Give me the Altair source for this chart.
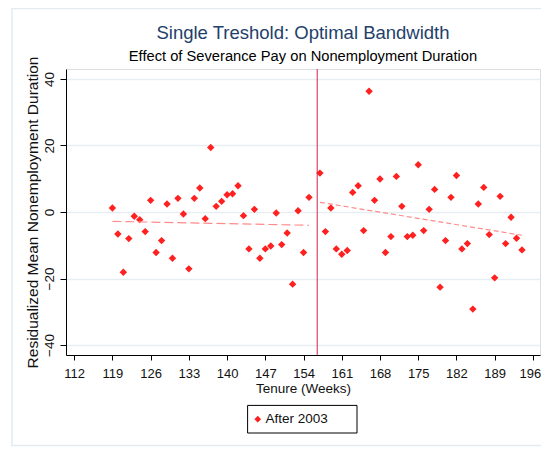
import altair as alt
import pandas as pd

# ---- data ----
left_weeks = [119, 120, 121, 122, 123, 124, 125, 126, 127, 128, 129, 130, 131, 132, 133,
              134, 135, 136, 137, 138, 139, 140, 141, 142, 143, 144, 145, 146, 147, 148,
              149, 150, 151, 152, 153, 154, 155]
left_vals = [1.2, -6.6, -18.1, -8.0, -1.3, -2.3, -5.9, 3.5, -12.2, -8.6, 2.4, -13.9, 4.1,
             -0.6, -17.1, 4.1, 7.2, -2.0, 19.4, 1.7, 3.2, 5.2, 5.5, 7.9, -1.1, -11.1, 0.8,
             -13.9, -11.1, -10.2, -0.3, -9.8, -6.3, -21.7, 0.4, -12.2, 4.4]
right_weeks = [157, 158, 159, 160, 161, 162, 163, 164, 165, 166, 167, 168, 169, 170, 171,
               172, 173, 174, 175, 176, 177, 178, 179, 180, 181, 182, 183, 184, 185, 186,
               187, 188, 189, 190, 191, 192, 193, 194]
right_vals = [11.7, -5.9, 1.2, -11.1, -12.7, -11.6, 5.9, 7.9, -5.6, 36.3, 3.5, 9.9, -12.2,
              -7.4, 10.7, 1.7, -7.4, -7.0, 14.2, -5.6, 0.8, 6.8, -22.6, -8.6, 4.4, 11.0,
              -11.1, -9.5, -29.2, 2.4, 7.4, -6.8, -19.8, 4.7, -9.5, -1.6, -7.9, -11.4]
series_name = "After 2003"
cutoff = 156.5
left_fit_x = [119, 155]
left_fit_y = [-2.8, -4.0]
right_fit_x = [157, 194]
right_fit_y = [2.9, -7.0]
x_ticks = [112, 119, 126, 133, 140, 147, 154, 161, 168, 175, 182, 189, 196]
y_ticks = [-40, -20, 0, 20, 40]
title_text = "Single Treshold: Optimal Bandwidth"
subtitle_text = "Effect of Severance Pay on Nonemployment Duration"

FONT = "Liberation Sans"
RED = "#ff2020"
FIT = "#ff8a8a"
W, H = 474, 286

pts = pd.DataFrame({
    "tenure": left_weeks + right_weeks,
    "value": left_vals + right_vals,
    "series": [series_name] * (len(left_weeks) + len(right_weeks)),
})
left_fit = pd.DataFrame({"tenure": left_fit_x, "fit": left_fit_y})
right_fit = pd.DataFrame({"tenure": right_fit_x, "fit": right_fit_y})
cut = pd.DataFrame({"cutoff": [cutoff]})
one = alt.Data(values=[{"k": 1}])

xscale = alt.Scale(domain=[110.5, 197.3], nice=False, zero=False)
yscale = alt.Scale(domain=[-43, 43], nice=False, zero=False)

xaxis = alt.Axis(values=x_ticks, title="Tenure (Weeks)", grid=False,
                 labelOverlap=False, labelFlush=False,
                 labelOffset=alt.condition("datum.value == 196", alt.value(-3), alt.value(0)),
                 labelFontSize=13, labelFont=FONT, labelColor="#111",
                 labelPadding=7, tickSize=5, tickColor="black",
                 domainColor="black", titleFont=FONT, titleFontSize=13.5,
                 titleFontWeight="normal", titleColor="#111",
                 titleBaseline="alphabetic", titleY=37)
yaxis = alt.Axis(values=y_ticks, title="Residualized Mean Nonemployment Duration",
                 grid=True, gridColor="#e6eef1", gridWidth=1.5,
                 labelOverlap=False, labelFlush=False,
                 labelAngle=270, labelAlign="center", labelBaseline="bottom",
                 labelFontSize=13.5, labelFont=FONT, labelColor="#111",
                 labelPadding=4, tickSize=6, tickColor="black", domainColor="black",
                 titleFont=FONT, titleFontSize=15.5, titleFontWeight="normal",
                 titleColor="#111", titleAngle=270, titleAlign="center",
                 titleBaseline="alphabetic", titleX=-29, titleY=143)

X = lambda f: alt.X(f, scale=xscale, axis=xaxis)
Y = lambda f: alt.Y(f, scale=yscale, axis=yaxis)

frame = alt.Chart(one).mark_rect(
    fillOpacity=0, stroke="#e2ecef", strokeWidth=1.5
).encode(
    x=alt.value(-54), x2=alt.value(520), y=alt.value(-60.5), y2=alt.value(376.5)
)
legend_box = alt.Chart(one).mark_rect(
    fill="white", stroke="black", strokeWidth=1
).encode(
    x=alt.value(181.6), x2=alt.value(291), y=alt.value(336.4), y2=alt.value(364)
)

title_mark = alt.Chart(one).mark_text(
    font=FONT, fontSize=18.5, color="#233f6b", align="center", baseline="alphabetic"
).encode(x=alt.value(W / 2), y=alt.value(-30), text=alt.value(title_text))
subtitle_mark = alt.Chart(one).mark_text(
    font=FONT, fontSize=14.7, color="#000", align="center", baseline="alphabetic"
).encode(x=alt.value(W / 2), y=alt.value(-8), text=alt.value(subtitle_text))

points = alt.Chart(pts).mark_point(shape="diamond", filled=True, size=55, opacity=1).encode(
    x=X("tenure:Q"),
    y=Y("value:Q"),
    color=alt.Color("series:N", scale=alt.Scale(domain=[series_name], range=[RED]),
                    legend=alt.Legend(title=None, orient="none", legendX=178, legendY=336.4,
                                      padding=7, symbolType="diamond",
                                      symbolSize=45, labelFont=FONT, labelFontSize=13.5,
                                      labelColor="#111", labelOffset=1)),
)

lfit = alt.Chart(left_fit).mark_line(color=FIT, strokeWidth=1.2, strokeDash=[9, 4]).encode(
    x=X("tenure:Q"), y=Y("fit:Q"))
rfit = alt.Chart(right_fit).mark_line(color=FIT, strokeWidth=1.2, strokeDash=[5, 3]).encode(
    x=X("tenure:Q"), y=Y("fit:Q"))
rule = alt.Chart(cut).mark_rule(color="#d2204a", strokeWidth=1).encode(
    x=X("cutoff:Q"))

chart = alt.layer(frame, legend_box, title_mark, subtitle_mark, points, rule, lfit, rfit).properties(
    width=W, height=H,
    autosize=alt.AutoSizeParams(type="none"),
    padding={"left": 58, "top": 61, "right": 1, "bottom": 92},
).configure_view(stroke=None).configure_axisX(labelOverlap=False).configure(background="white")

chart.save("out.html", embed_options={"renderer": "svg", "actions": False})
